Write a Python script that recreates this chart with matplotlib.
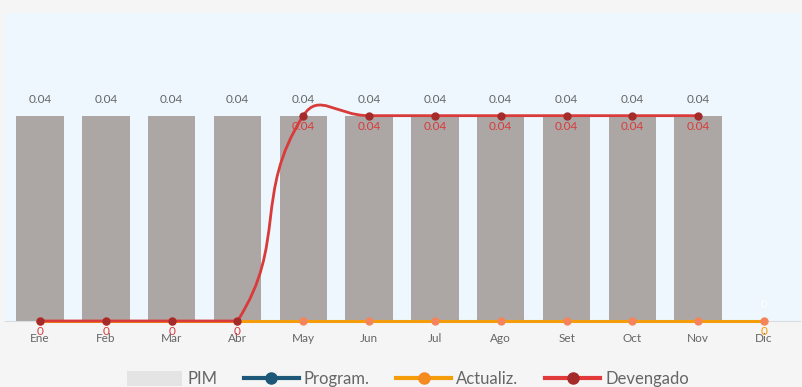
import matplotlib.pyplot as plt
from matplotlib.path import Path
from matplotlib.patches import PathPatch, Patch
from matplotlib.lines import Line2D
import numpy as np

plt.rcParams['font.family'] = ['Lato', 'DejaVu Sans']

meses = ['Ene', 'Feb', 'Mar', 'Abr', 'May', 'Jun', 'Jul', 'Ago', 'Set', 'Oct', 'Nov', 'Dic']
pim = [0.04, 0.04, 0.04, 0.04, 0.04, 0.04, 0.04, 0.04, 0.04, 0.04, 0.04, 0]
actualiz = [0, 0, 0, 0, 0, 0, 0, 0, 0, 0, 0, 0]
devengado = [0, 0, 0, 0, 0.04, 0.04, 0.04, 0.04, 0.04, 0.04, 0.04]

c_bar = '#aca7a5'
c_prog = '#1d5878'
c_act = '#f59c0a'
c_act_mk = '#f6845a'
c_dev = '#d93a3a'
c_dev_mk = '#a52b2b'
c_txt = '#666666'

fig = plt.figure(figsize=(8.03, 3.87), dpi=100, facecolor='#f5f5f5')
ax = fig.add_axes([5 / 803, 66 / 387, 795 / 803, 308 / 387])
ax.set_facecolor('#edf7fd')
x = np.arange(len(meses))
ax.set_xlim(-0.532, 11.547)
ax.set_ylim(0, 0.06)

# PIM bars
ax.bar(x, pim, width=0.72, color=c_bar, zorder=2)
for i, v in enumerate(pim):
    if v > 0:
        ax.annotate(f'{v:.2f}', (i, v), xytext=(0, 8), textcoords='offset points',
                    ha='center', va='bottom', fontsize=8.5, color=c_txt)
    else:
        ax.annotate(f'{v:g}', (i, v), xytext=(0, 8), textcoords='offset points',
                    ha='center', va='bottom', fontsize=8.5, color='white')

# Actualiz. flat line
ax.plot(x, actualiz, color=c_act, lw=2.2, zorder=3, clip_on=False)
ax.plot(x, actualiz, 'o', color=c_act_mk, ms=5, zorder=4, clip_on=False)
ax.annotate('0', (x[-1], actualiz[-1]), xytext=(0, -3.5), textcoords='offset points',
            ha='center', va='top', fontsize=8.5, color=c_act, zorder=6)

# Devengado smooth line (bezier through points, control points kept inside the plot area)
xd = np.arange(len(devengado))
pts = ax.transData.transform(np.column_stack([xd, devengado]))
bb = ax.bbox
lo = np.array([bb.x0, bb.y0])
hi = np.array([bb.x1, bb.y1])
smooth = 0.5
cps = []
for i in range(len(pts)):
    cur = pts[i]
    if i == 0 or i == len(pts) - 1:
        cps.append((cur, cur))
        continue
    prev, nxt = pts[i - 1], pts[i + 1]
    v = nxt - prev
    d0 = np.hypot(*(cur - prev))
    d1 = np.hypot(*(cur - nxt))
    s = d0 + d1
    d0, d1 = d0 / s, d1 / s
    cp0 = np.clip(cur - v * smooth * d0, lo, hi)
    cp1 = np.clip(cur + v * smooth * d1, lo, hi)
    cps.append((cp0, cp1))
verts = [pts[0]]
codes = [Path.MOVETO]
for i in range(1, len(pts)):
    verts += [cps[i - 1][1], cps[i][0], pts[i]]
    codes += [Path.CURVE4] * 3
verts = ax.transData.inverted().transform(np.array(verts))
ax.add_patch(PathPatch(Path(verts, codes), fill=False, edgecolor=c_dev, lw=2, zorder=4,
                       clip_on=False))
ax.plot(xd, devengado, 'o', color=c_dev_mk, ms=5, zorder=5, clip_on=False)
for i, v in enumerate(devengado):
    ax.annotate(f'{v:.2f}' if v else '0', (i, v), xytext=(0, -3.5), textcoords='offset points',
                ha='center', va='top', fontsize=8.5, color=c_dev, zorder=6)

ax.set_xticks(x)
ax.set_xticklabels(meses, fontsize=8.5, color=c_txt)
ax.tick_params(axis='x', length=0, pad=9)
ax.set_yticks([])
for s in ['top', 'right', 'left']:
    ax.spines[s].set_visible(False)
ax.spines['bottom'].set_color('#d8dde0')

handles = [
    Patch(facecolor='#e4e4e4', edgecolor='none'),
    Line2D([0], [0], color=c_prog, lw=3, marker='o', ms=8),
    Line2D([0], [0], color=c_act, lw=3, marker='o', ms=8, markerfacecolor='#f58a1f',
           markeredgecolor='#f58a1f'),
    Line2D([0], [0], color='#e23a3a', lw=3, marker='o', ms=8, markerfacecolor=c_dev_mk,
           markeredgecolor=c_dev_mk),
]
fig.legend(handles, ['PIM', 'Program.', 'Actualiz.', 'Devengado'], loc='lower center',
           bbox_to_anchor=(0.508, -0.04), ncol=4, frameon=False, fontsize=12,
           labelcolor=c_txt, handlelength=3.3, handleheight=1.0, columnspacing=1.6,
           handletextpad=0.3, numpoints=1)

fig.savefig('out.png', dpi=100, facecolor=fig.get_facecolor())
